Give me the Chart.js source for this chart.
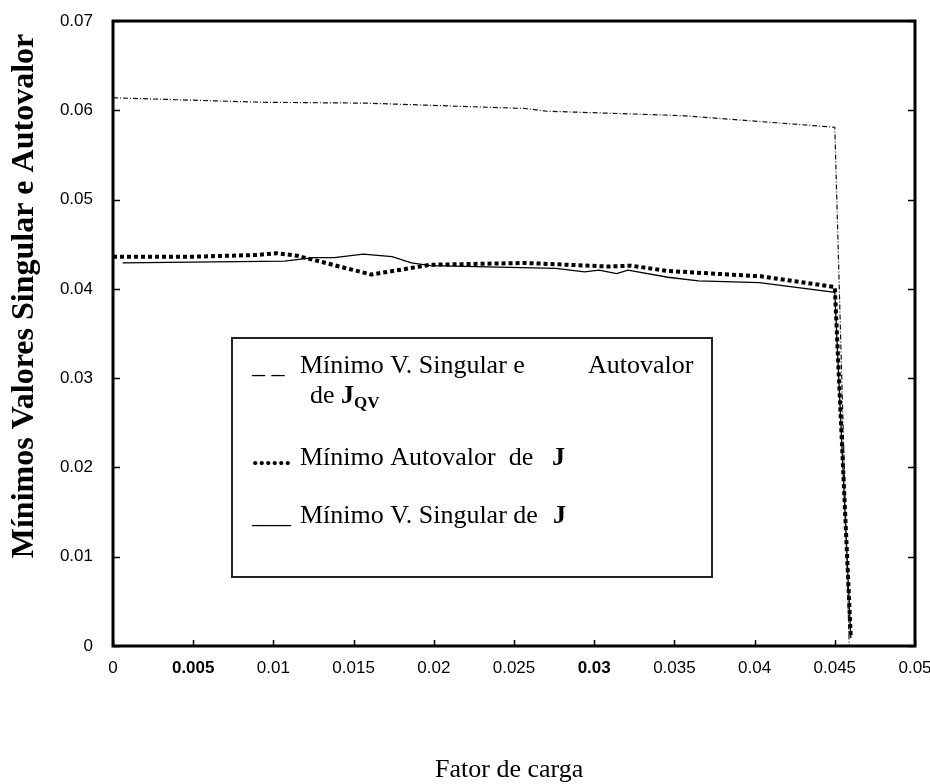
<!DOCTYPE html>
<html>
<head>
<meta charset="utf-8">
<script src="https://cdn.jsdelivr.net/npm/chart.js@4/dist/chart.umd.min.js"></script>
<style>
  html, body { margin: 0; padding: 0; background: #ffffff; }
  #wrap { width: 930px; height: 784px; position: relative; }
</style>
</head>
<body>
<div id="wrap"><canvas id="chart" width="930" height="784"></canvas></div>
<script>
// Load factor (x) and minimum singular value / eigenvalue (y) for each curve
const xJqv = [0, 0.0092, 0.0158, 0.0257, 0.0270, 0.0355, 0.0450, 0.0459];
const yJqv = [0.0614, 0.0609, 0.0608, 0.0602, 0.0599, 0.0594, 0.0581, 0.0];

const xAutoJ = [0, 0.0050, 0.0090, 0.0102, 0.0115, 0.0161, 0.0198, 0.0257, 0.0309, 0.0323, 0.0346, 0.0404, 0.0450, 0.0460];
const yAutoJ = [0.0436, 0.0436, 0.0438, 0.0440, 0.0437, 0.0416, 0.0427, 0.0429, 0.0425, 0.0426, 0.0420, 0.0414, 0.0402, 0.0009];

const xSingJ = [0.0006, 0.0107, 0.0125, 0.0138, 0.0156, 0.0174, 0.0186, 0.0198, 0.0276, 0.0294, 0.0303, 0.0314, 0.0321, 0.0346, 0.0365, 0.0403, 0.0450, 0.0460];
const ySingJ = [0.0429, 0.0431, 0.0435, 0.0435, 0.0439, 0.0436, 0.0429, 0.0426, 0.0423, 0.0419, 0.0421, 0.0417, 0.0421, 0.0413, 0.0409, 0.0407, 0.0396, 0.0009];

const xTickLabels = ['0', '0.005', '0.01', '0.015', '0.02', '0.025', '0.03', '0.035', '0.04', '0.045', '0.05'];
const yTickLabels = ['0', '0.01', '0.02', '0.03', '0.04', '0.05', '0.06', '0.07'];
const boldXTicks = ['0.005', '0.03'];

const toPoints = (xs, ys) => xs.map((x, i) => ({ x: x, y: ys[i] }));

// Axis labels may overhang the plot; the frame position comes from layout padding only
const noOverhang = (s) => { s.paddingTop = 0; s.paddingBottom = 0; s.paddingLeft = 0; s.paddingRight = 0; };

// Frame, inward tick marks, axis titles and the boxed legend
const decorations = {
  id: 'decorations',
  afterDatasetsDraw(chart) {
    const { ctx, chartArea: a, scales } = chart;
    ctx.save();
    ctx.strokeStyle = '#000';
    ctx.lineWidth = 1.5;
    ctx.beginPath();
    scales.x.ticks.forEach(t => {
      const px = Math.round(scales.x.getPixelForValue(t.value)) + 0.5;
      ctx.moveTo(px, a.bottom); ctx.lineTo(px, a.bottom - 6);
    });
    scales.y.ticks.forEach(t => {
      const py = Math.round(scales.y.getPixelForValue(t.value)) + 0.5;
      ctx.moveTo(a.left, py); ctx.lineTo(a.left + 7, py);
      ctx.moveTo(a.right, py); ctx.lineTo(a.right - 7, py);
    });
    ctx.stroke();
    ctx.lineWidth = 3;
    ctx.strokeRect(a.left, a.top, a.right - a.left, a.bottom - a.top);

    // y axis title
    ctx.fillStyle = '#000';
    ctx.save();
    ctx.translate(33, 296);
    ctx.rotate(-Math.PI / 2);
    ctx.font = 'bold 32px "Liberation Serif", "Times New Roman", serif';
    ctx.textAlign = 'center';
    ctx.textBaseline = 'alphabetic';
    ctx.fillText('Mínimos Valores Singular e Autovalor', 0, 0);
    ctx.restore();

    // x axis title
    ctx.font = '26px "Liberation Serif", "Times New Roman", serif';
    ctx.textAlign = 'left';
    ctx.textBaseline = 'alphabetic';
    ctx.fillText('Fator de carga', 435, 777);

    // legend box
    const bx = 232, by = 338, bw = 480, bh = 239;
    ctx.fillStyle = '#ffffff';
    ctx.fillRect(bx, by, bw, bh);
    ctx.strokeStyle = '#222';
    ctx.lineWidth = 2;
    ctx.strokeRect(bx, by, bw, bh);

    ctx.fillStyle = '#000';
    const reg = '26px "Liberation Serif", "Times New Roman", serif';
    const bold = 'bold 26px "Liberation Serif", "Times New Roman", serif';
    const sub = 'bold 17px "Liberation Serif", "Times New Roman", serif';
    const put = (text, font, x, y) => { ctx.font = font; ctx.fillText(text, x, y); return x + ctx.measureText(text).width; };

    put('_ _', reg, 252, 373);
    put('Mínimo V. Singular e', reg, 300, 373);
    put('Autovalor', reg, 588, 373);
    let nx = put('de ', reg, 310, 403);
    nx = put('J', bold, nx, 403);
    put('QV', sub, nx, 408);

    put('......', bold, 252, 465);
    put('Mínimo Autovalor  de', reg, 300, 465);
    put('J', bold, 552, 465);

    put('___', reg, 252, 523);
    put('Mínimo V. Singular de', reg, 300, 523);
    put('J', bold, 553, 523);
    ctx.restore();
  }
};

new Chart(document.getElementById('chart'), {
  type: 'line',
  data: {
    datasets: [
      {
        label: 'Mínimo V. Singular e Autovalor de JQV',
        data: toPoints(xJqv, yJqv),
        borderColor: '#111',
        borderWidth: 1.2,
        borderDash: [5, 2, 1, 2],
        pointRadius: 0,
        tension: 0
      },
      {
        label: 'Mínimo Autovalor de J',
        data: toPoints(xAutoJ, yAutoJ),
        borderColor: '#000',
        borderWidth: 4,
        borderDash: [4, 3],
        borderCapStyle: 'butt',
        pointRadius: 0,
        tension: 0
      },
      {
        label: 'Mínimo V. Singular de J',
        data: toPoints(xSingJ, ySingJ),
        borderColor: '#000',
        borderWidth: 1.3,
        pointRadius: 0,
        tension: 0
      }
    ]
  },
  options: {
    responsive: false,
    animation: false,
    layout: { padding: { top: 21, right: 15, left: 0, bottom: 0 } },
    plugins: { legend: { display: false }, tooltip: { enabled: false } },
    scales: {
      x: {
        type: 'linear',
        min: 0,
        max: 0.05,
        ticks: {
          stepSize: 0.005,
          color: '#000',
          padding: 12,
          maxRotation: 0,
          autoSkip: false,
          callback: (v, i) => xTickLabels[i],
          font: (c) => ({
            family: '"Liberation Sans", Arial, sans-serif',
            size: 17,
            weight: boldXTicks.includes(xTickLabels[c.index]) ? 'bold' : 'normal'
          })
        },
        grid: { display: false, drawTicks: false },
        border: { display: false },
        afterFit: (s) => { s.height = 138; noOverhang(s); }
      },
      y: {
        min: 0,
        max: 0.07,
        ticks: {
          stepSize: 0.01,
          color: '#000',
          padding: 20,
          callback: (v, i) => yTickLabels[i],
          font: { family: '"Liberation Sans", Arial, sans-serif', size: 17 }
        },
        grid: { display: false, drawTicks: false },
        border: { display: false },
        afterFit: (s) => { s.width = 113; noOverhang(s); }
      }
    }
  },
  plugins: [decorations]
});
</script>
</body>
</html>
